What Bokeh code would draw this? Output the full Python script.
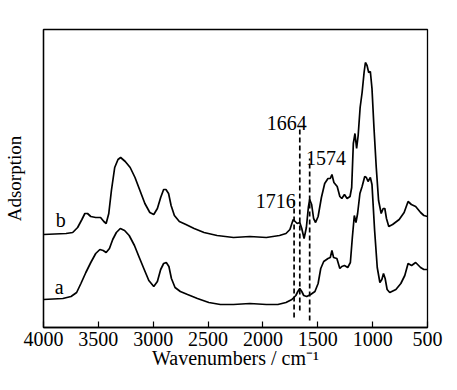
from bokeh.plotting import figure
from bokeh.models import Range1d, FixedTicker, Label
from bokeh.embed import file_html
from bokeh.resources import INLINE

# ---- data (wavenumber in cm^-1, absorbance in arbitrary units) ----
wn_b = [4000, 3794, 3734, 3689, 3650, 3623, 3599, 3569, 3524, 3480, 3450, 3429, 3405, 3381,
        3351, 3321, 3297, 3255, 3210, 3166, 3121, 3076, 3031, 2995, 2962, 2932, 2905, 2884,
        2860, 2837, 2807, 2762, 2702, 2627, 2537, 2418, 2268, 2119, 1969, 1849, 1790, 1754,
        1724, 1706, 1688, 1664, 1646, 1625, 1604, 1586, 1574, 1556, 1538, 1520, 1497, 1467,
        1437, 1407, 1386, 1371, 1353, 1323, 1299, 1281, 1257, 1233, 1206, 1191, 1176, 1161,
        1146, 1132, 1114, 1096, 1078, 1066, 1051, 1036, 1021, 1006, 988, 967, 946, 922, 904,
        889, 874, 853, 818, 758, 713, 677, 647, 608, 563, 533, 500]
abs_b = [0.93, 0.94, 0.95, 1.00, 1.08, 1.14, 1.14, 1.11, 1.10, 1.10, 1.06, 1.04, 1.14, 1.37,
         1.60, 1.68, 1.70, 1.66, 1.60, 1.50, 1.37, 1.24, 1.15, 1.13, 1.19, 1.30, 1.38, 1.38,
         1.34, 1.22, 1.12, 1.06, 1.03, 0.99, 0.95, 0.92, 0.90, 0.91, 0.90, 0.92, 0.94, 0.98,
         1.08, 1.06, 1.04, 1.05, 0.99, 0.89, 1.00, 1.20, 1.28, 1.23, 1.09, 1.05, 1.11, 1.30,
         1.44, 1.49, 1.49, 1.53, 1.45, 1.41, 1.31, 1.29, 1.33, 1.29, 1.31, 1.40, 1.84, 1.94,
         1.79, 1.92, 2.20, 2.35, 2.55, 2.65, 2.62, 2.55, 2.56, 2.39, 2.00, 1.60, 1.27, 1.14, 1.19,
         1.19, 1.09, 1.01, 1.03, 1.08, 1.15, 1.26, 1.23, 1.21, 1.15, 1.12, 1.11]

wn_a = [4000, 3824, 3749, 3698, 3659, 3614, 3569, 3524, 3486, 3456, 3429, 3399, 3369, 3336,
        3300, 3261, 3219, 3171, 3127, 3082, 3040, 2995, 2962, 2932, 2905, 2881, 2857, 2834,
        2801, 2753, 2687, 2597, 2493, 2388, 2268, 2119, 1969, 1864, 1790, 1736, 1700, 1682,
        1664, 1646, 1628, 1601, 1565, 1526, 1497, 1473, 1446, 1407, 1386, 1371, 1356, 1326,
        1299, 1281, 1257, 1227, 1203, 1185, 1167, 1152, 1137, 1116, 1096, 1072, 1057, 1042,
        1021, 1006, 982, 958, 934, 916, 901, 886, 868, 844, 788, 743, 707, 677, 645, 608, 563,
        533, 500]
abs_a = [0.28, 0.29, 0.31, 0.35, 0.44, 0.55, 0.65, 0.74, 0.78, 0.77, 0.75, 0.79, 0.88, 0.95,
         0.99, 0.97, 0.92, 0.82, 0.70, 0.58, 0.47, 0.41, 0.46, 0.58, 0.64, 0.65, 0.61, 0.49,
         0.40, 0.36, 0.33, 0.29, 0.25, 0.23, 0.23, 0.24, 0.23, 0.23, 0.25, 0.28, 0.32, 0.36,
         0.39, 0.36, 0.32, 0.31, 0.33, 0.36, 0.44, 0.59, 0.66, 0.69, 0.70, 0.77, 0.70, 0.69,
         0.59, 0.61, 0.62, 0.60, 0.65, 0.90, 1.12, 1.05, 1.14, 1.34, 1.41, 1.51, 1.50, 1.46,
         1.50, 1.43, 0.97, 0.60, 0.45, 0.48, 0.54, 0.49, 0.38, 0.35, 0.38, 0.44, 0.52, 0.64,
         0.62, 0.65, 0.60, 0.58, 0.58]

marker_wn = [1716, 1664, 1574]
marker_top = [1.30, 2.00, 1.69]
marker_bottom = [0.10, 0.17, 0.07]
marker_text = ["1716", "1664", "1574"]
marker_label_wn = [1882, 1783, 1424]
marker_label_y = [1.27, 2.05, 1.70]

series_names = ["a", "b"]
series_label_wn = [3856, 3843]
series_label_y = [0.41, 1.08]

tick_values = [4000, 3500, 3000, 2500, 2000, 1500, 1000, 500]

x_title = "Wavenumbers / cm\u207b\u00b9"
y_title = "Adsorption"

FONT = "Liberation Serif"

p = figure(width=457, height=390, x_range=Range1d(4000, 500), y_range=Range1d(0, 2.98),
           output_backend="svg", toolbar_location=None,
           min_border_left=37, min_border_right=30, min_border_top=29, min_border_bottom=63)
p.background_fill_color = "white"
p.border_fill_color = "white"
p.grid.visible = False
p.outline_line_color = "black"
p.outline_line_width = 1.3
p.outline_line_alpha = 1.0

ax = p.xaxis[0]
ax.ticker = FixedTicker(ticks=tick_values)
ax.major_tick_in = 6
ax.major_tick_out = 0
ax.minor_tick_in = 0
ax.minor_tick_out = 0
ax.major_tick_line_color = "black"
ax.major_tick_line_width = 1.2
ax.axis_line_color = "black"
ax.axis_line_width = 1.3
ax.major_label_text_font = FONT
ax.major_label_text_font_size = "20px"
ax.major_label_text_color = "black"
ax.major_label_standoff = 4
ax.axis_label = x_title
ax.axis_label_text_font = FONT
ax.axis_label_text_font_size = "20px"
ax.axis_label_text_font_style = "normal"
ax.axis_label_text_color = "black"
ax.axis_label_standoff = -2

ay = p.yaxis[0]
ay.ticker = FixedTicker(ticks=[])
ay.major_tick_in = 0
ay.major_tick_out = 0
ay.minor_tick_in = 0
ay.minor_tick_out = 0
ay.major_label_text_font_size = "0px"
ay.axis_line_color = "black"
ay.axis_line_width = 1.3
ay.axis_label = y_title
ay.axis_label_text_font = FONT
ay.axis_label_text_font_size = "19px"
ay.axis_label_text_font_style = "normal"
ay.axis_label_text_color = "black"
ay.axis_label_standoff = 19

p.line(wn_b, abs_b, line_color="black", line_width=1.7)
p.line(wn_a, abs_a, line_color="black", line_width=1.7)

p.segment(x0=marker_wn, y0=marker_bottom, x1=marker_wn, y1=marker_top,
          line_color="black", line_width=1.7, line_dash="5 3")

for t, x, y in zip(marker_text, marker_label_wn, marker_label_y):
    p.add_layout(Label(x=x, y=y, text=t, text_font=FONT, text_font_size="20px",
                       text_color="black", text_align="center", text_baseline="alphabetic"))

for t, x, y in zip(series_names, series_label_wn, series_label_y):
    p.add_layout(Label(x=x, y=y, text=t, text_font=FONT, text_font_size="20px",
                       text_color="black", text_align="center", text_baseline="alphabetic"))

open("out.html", "w").write(file_html(p, INLINE))
